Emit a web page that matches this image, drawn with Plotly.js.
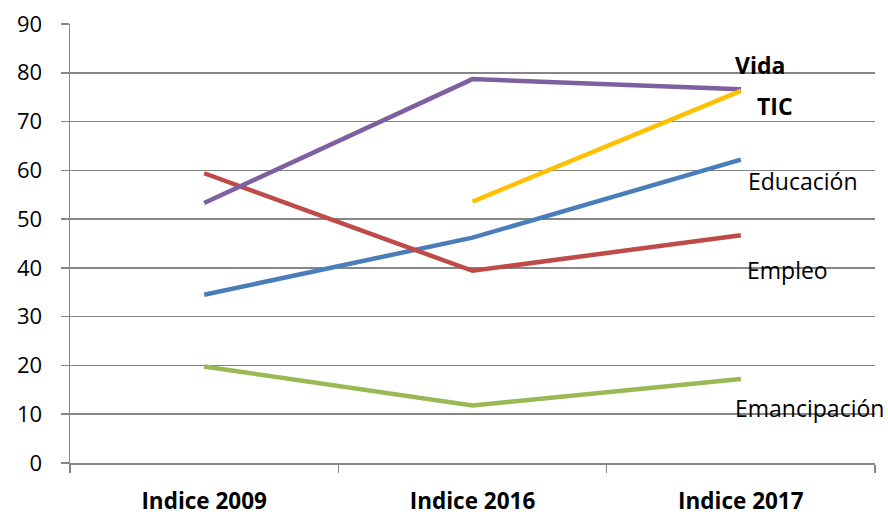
<!DOCTYPE html>
<html>
<head>
<meta charset="utf-8">
<script src="https://cdn.plot.ly/plotly-3.0.1.min.js"></script>
<style>html,body{margin:0;padding:0;background:#fff}#chart{width:888px;height:515px}</style>
</head>
<body>
<div id="chart"></div>
<script>
var categories = ["Indice 2009", "Indice 2016", "Indice 2017"];
var seriesNames = ["Educación", "Empleo", "Emancipación", "Vida", "TIC"];
var educacion = [34.5, 46.2, 62.2];
var empleo = [59.4, 39.4, 46.7];
var emancipacion = [19.8, 11.8, 17.2];
var vida = [53.3, 78.7, 76.6];
var tic = [null, 53.6, 76.3];
var yTicks = [0, 10, 20, 30, 40, 50, 60, 70, 80, 90];

var colors = ["#4a7ebb", "#be4b48", "#98b954", "#7d60a0", "#ffc000"];
var seriesValues = [educacion, empleo, emancipacion, vida, tic];

var traces = seriesValues.map(function (vals, i) {
  return {
    type: "scatter",
    mode: "lines",
    x: categories,
    y: vals,
    name: seriesNames[i],
    line: { color: colors[i], width: 4.5 },
    connectgaps: false,
    hoverinfo: "none"
  };
});

var font = "'Open Sans', sans-serif";
var labelSpecs = [
  { text: "<b>Vida</b>", x: 2.07, y: 81.6 },
  { text: "<b>TIC</b>", x: 2.127, y: 73.2 },
  { text: "Educación", x: 2.23, y: 57.8 },
  { text: "Empleo", x: 2.175, y: 39.5 },
  { text: "Emancipación", x: 2.257, y: 11.2 }
];
var annotations = labelSpecs.map(function (a) {
  return {
    text: a.text, x: a.x, y: a.y, xref: "x", yref: "y",
    showarrow: false, xanchor: "center", yanchor: "middle",
    font: { family: font, size: 23, color: "#000" }
  };
});

var layout = {
  width: 888, height: 515,
  margin: { l: 70, r: 13, t: 24, b: 52 },
  paper_bgcolor: "#fff", plot_bgcolor: "#fff",
  showlegend: false,
  font: { family: font, size: 21, color: "#000" },
  xaxis: {
    type: "category",
    range: [-0.5, 2.5],
    showgrid: false,
    showline: true, linecolor: "#868686", linewidth: 1.5,
    ticks: "outside", tickson: "boundaries", ticklen: 8, tickcolor: "#868686", tickwidth: 1.5,
    tickfont: { family: font, size: 22.5, color: "#000", weight: "bold" },
    ticklabelstandoff: 17,
    zeroline: false, fixedrange: true
  },
  yaxis: {
    range: [0, 90],
    tickvals: yTicks,
    showgrid: true, gridcolor: "#868686", gridwidth: 1.5,
    showline: true, linecolor: "#868686", linewidth: 1.5,
    ticks: "outside", ticklen: 8, tickcolor: "#868686", tickwidth: 1.5,
    tickfont: { family: font, size: 22, color: "#000" },
    ticklabelstandoff: 14,
    zeroline: false, fixedrange: true
  },
  annotations: annotations
};

Plotly.newPlot("chart", traces, layout, { staticPlot: true, displayModeBar: false });
</script>
</body>
</html>
